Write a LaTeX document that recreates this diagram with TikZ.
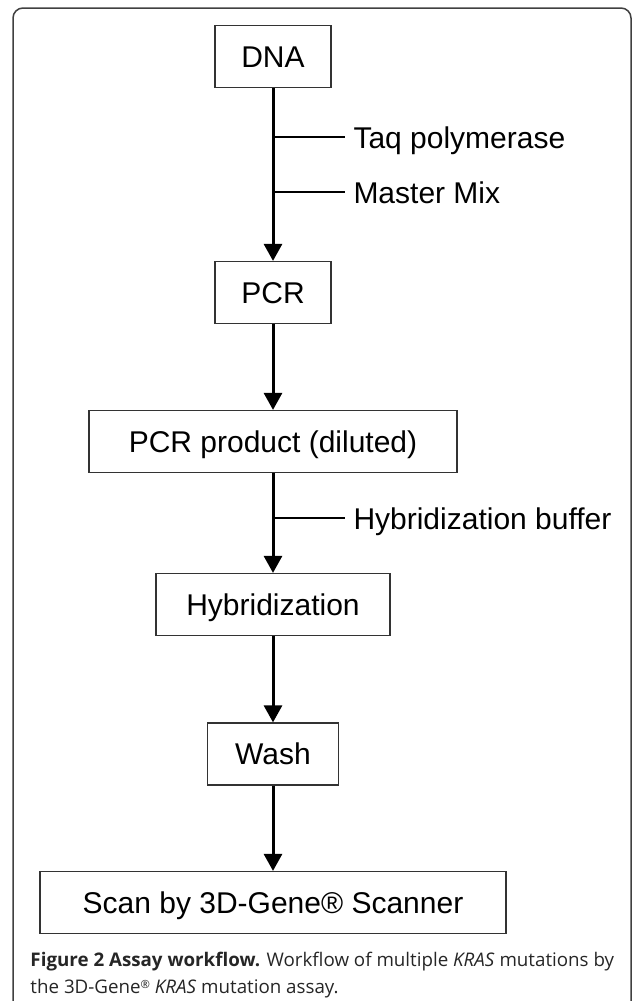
\documentclass[tikz,border=0pt]{standalone}
\usepackage{fontspec}
\setmainfont{Liberation Sans}
\newfontfamily\capfont{Open Sans}
\usetikzlibrary{arrows.meta}

\begin{document}
\begin{tikzpicture}[x=.4pt,y=-.4pt,
  stepbox/.style={draw=black!80,line width=.5pt,minimum height=24.8pt,inner sep=0pt,
    text height=8.6pt,text depth=0pt,font=\fontsize{12}{14}\selectfont},
  flow/.style={line width=1.2pt,-{Triangle[width=7.2pt,length=6.8pt]}},
  feed/.style={line width=.6pt},
  feedlabel/.style={anchor=base west,inner sep=0pt,font=\fontsize{12}{14}\selectfont},
  caption/.style={anchor=base west,inner sep=0pt,text=black!85,font=\capfont\fontsize{7.5}{9}\selectfont}]
\useasboundingbox (0,0) rectangle (633,1001);
\clip (0,0) rectangle (633,1001);
% frame
\draw[black!75,line width=.6pt,rounded corners=4pt] (13,8) rectangle (631,1020);
% steps
\node[stepbox,minimum width=46.4pt] (dna) at (273,56.5) {DNA};
\node[stepbox,minimum width=46.4pt] (pcr) at (273,292.5) {PCR};
\node[stepbox,minimum width=147.2pt] (prod) at (273,441.5) {PCR product (diluted)};
\node[stepbox,minimum width=93.6pt] (hyb) at (273,604.5) {Hybridization};
\node[stepbox,minimum width=52.4pt] (wash) at (273,754) {Wash};
\node[stepbox,minimum width=186.4pt] (scan) at (273,902.5) {Scan by 3D-Gene® Scanner};
\draw[flow] (dna) -- (pcr);
\draw[flow] (pcr) -- (prod);
\draw[flow] (prod) -- (hyb);
\draw[flow] (hyb) -- (wash);
\draw[flow] (wash) -- (scan);
% reagents
\coordinate (taqa) at (273,137);\coordinate (taqb) at (345,137);
\coordinate (mixa) at (273,192);\coordinate (mixb) at (345,192);
\coordinate (bufa) at (273,518);\coordinate (bufb) at (345,518);
\node[feedlabel] (taq) at (353,148) {Taq polymerase};
\node[feedlabel] (mix) at (353,203) {Master Mix};
\node[feedlabel] (buf) at (353,529) {Hybridization buffer};
\draw[feed] (taqa) -- (taqb);
\draw[feed] (mixa) -- (mixb);
\draw[feed] (bufa) -- (bufb);
% caption
\node[caption] (cap1) at (30,966) {\textbf{Figure 2 Assay workflow.} Workflow of multiple \textit{KRAS} mutations by};
\node[caption] (cap2) at (30,993) {the 3D-Gene\raisebox{.45ex}{\fontsize{4.5}{5}\selectfont®} \textit{KRAS} mutation assay.};
\end{tikzpicture}
\end{document}
